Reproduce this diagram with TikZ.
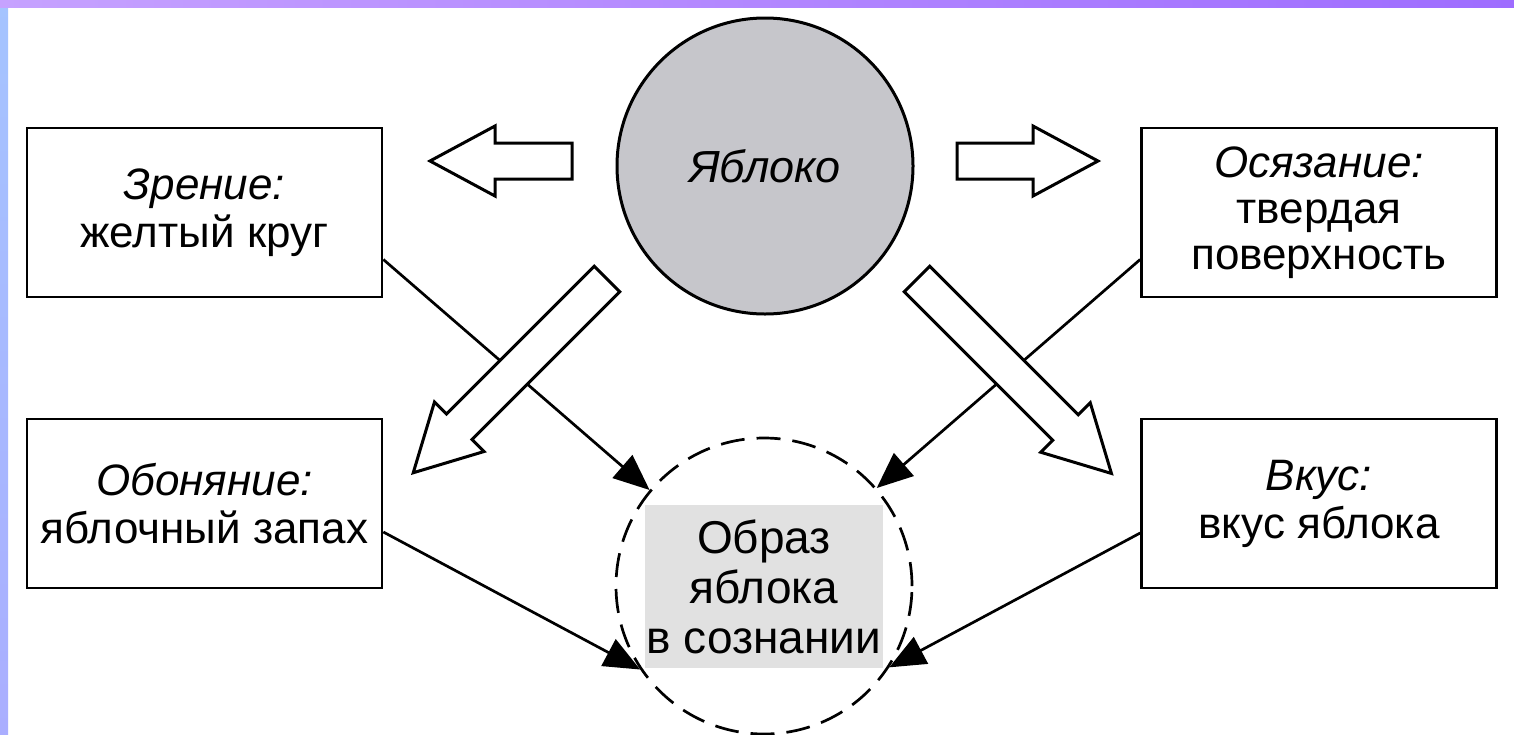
\documentclass[tikz,border=0pt]{standalone}
\usepackage{fontspec}
\setmainfont{Liberation Sans}
\usetikzlibrary{arrows.meta,calc}
\definecolor{applegray}{RGB}{198,198,203}
\definecolor{imggray}{RGB}{225,225,225}
\definecolor{barA}{RGB}{165,196,255}
\definecolor{barB}{RGB}{198,162,255}
\definecolor{barC}{RGB}{158,108,255}
\definecolor{barD}{RGB}{154,130,255}
\definecolor{sideTop}{RGB}{165,196,255}
\definecolor{sideBot}{RGB}{170,174,255}
\pgfdeclarehorizontalshading{topbar}{100bp}{color(0bp)=(barA); color(25bp)=(barB); color(75bp)=(barC); color(100bp)=(barD)}
\newcommand{\hollowarrow}[4]{%
  \begin{scope}[shift={(#1,#2)}, rotate=#3]
    \draw[hollow] (0,18) -- ({#4-65},18) -- ({#4-65},35) -- (#4,0) -- ({#4-65},-35) -- ({#4-65},-18) -- (0,-18) -- cycle;
  \end{scope}}
\begin{document}
\begin{tikzpicture}[x=1pt,y=-1pt,
  sensebox/.style={draw, line width=2.7pt, minimum width=355pt, minimum height=169pt, align=center, inner sep=0pt, font=\fontsize{44}{48}\selectfont},
  conn/.style={line width=2.7pt, -{Triangle[length=36pt,width=30pt]}},
  hollow/.style={draw, fill=white, line width=3pt, line join=miter}]
\useasboundingbox (0,0) rectangle (1514,734);
\fill[white] (0,0) rectangle (1514,734);
\shade[top color=sideTop, bottom color=sideBot] (0,0) rectangle (8,734);
\shade[shading=topbar] (0,0) rectangle (1514,7);

\node[sensebox] (zr) at (204.5,212.5) {\textit{Зрение:}\\желтый круг};
\node[sensebox] (ob) at (204.5,503.5) {\textit{Обоняние:}\\яблочный запах};
\node[sensebox, font=\fontsize{44}{46}\selectfont] (os) at (1319,212.5) {\textit{Осязание:}\\твердая\\поверхность};
\node[sensebox] (vk) at (1319,503.5) {\textit{Вкус:}\\вкус яблока};

\node[circle, draw, fill=applegray, line width=3pt, minimum size=296pt, inner sep=0pt, font=\itshape\fontsize{45}{48}\selectfont] (apple) at (765,166) {Яблоко};

\node[circle, draw, line width=2.7pt, dash pattern=on 24pt off 12pt, minimum size=296pt, inner sep=0pt] (img) at (764,586) {};
\node[fill=imggray, minimum width=238pt, minimum height=163pt, align=center, inner sep=0pt, font=\fontsize{46}{50}\selectfont] (imgtxt) at (764,586.5) {Образ\\яблока\\в сознании};

\draw[conn] ($(zr.east)+(0,47)$) -- (img.140);
\draw[conn] ($(ob.east)+(0,28.5)$) -- (img.214);
\draw[conn] ($(os.west)+(0,47)$) -- (img.41);
\draw[conn] ($(vk.west)+(0,29.5)$) -- (img.-33);

\hollowarrow{572}{161}{180}{142}
\hollowarrow{957}{161}{0}{141}
\hollowarrow{607}{279}{225}{274}
\hollowarrow{917}{279}{-45}{275}
\end{tikzpicture}
\end{document}
